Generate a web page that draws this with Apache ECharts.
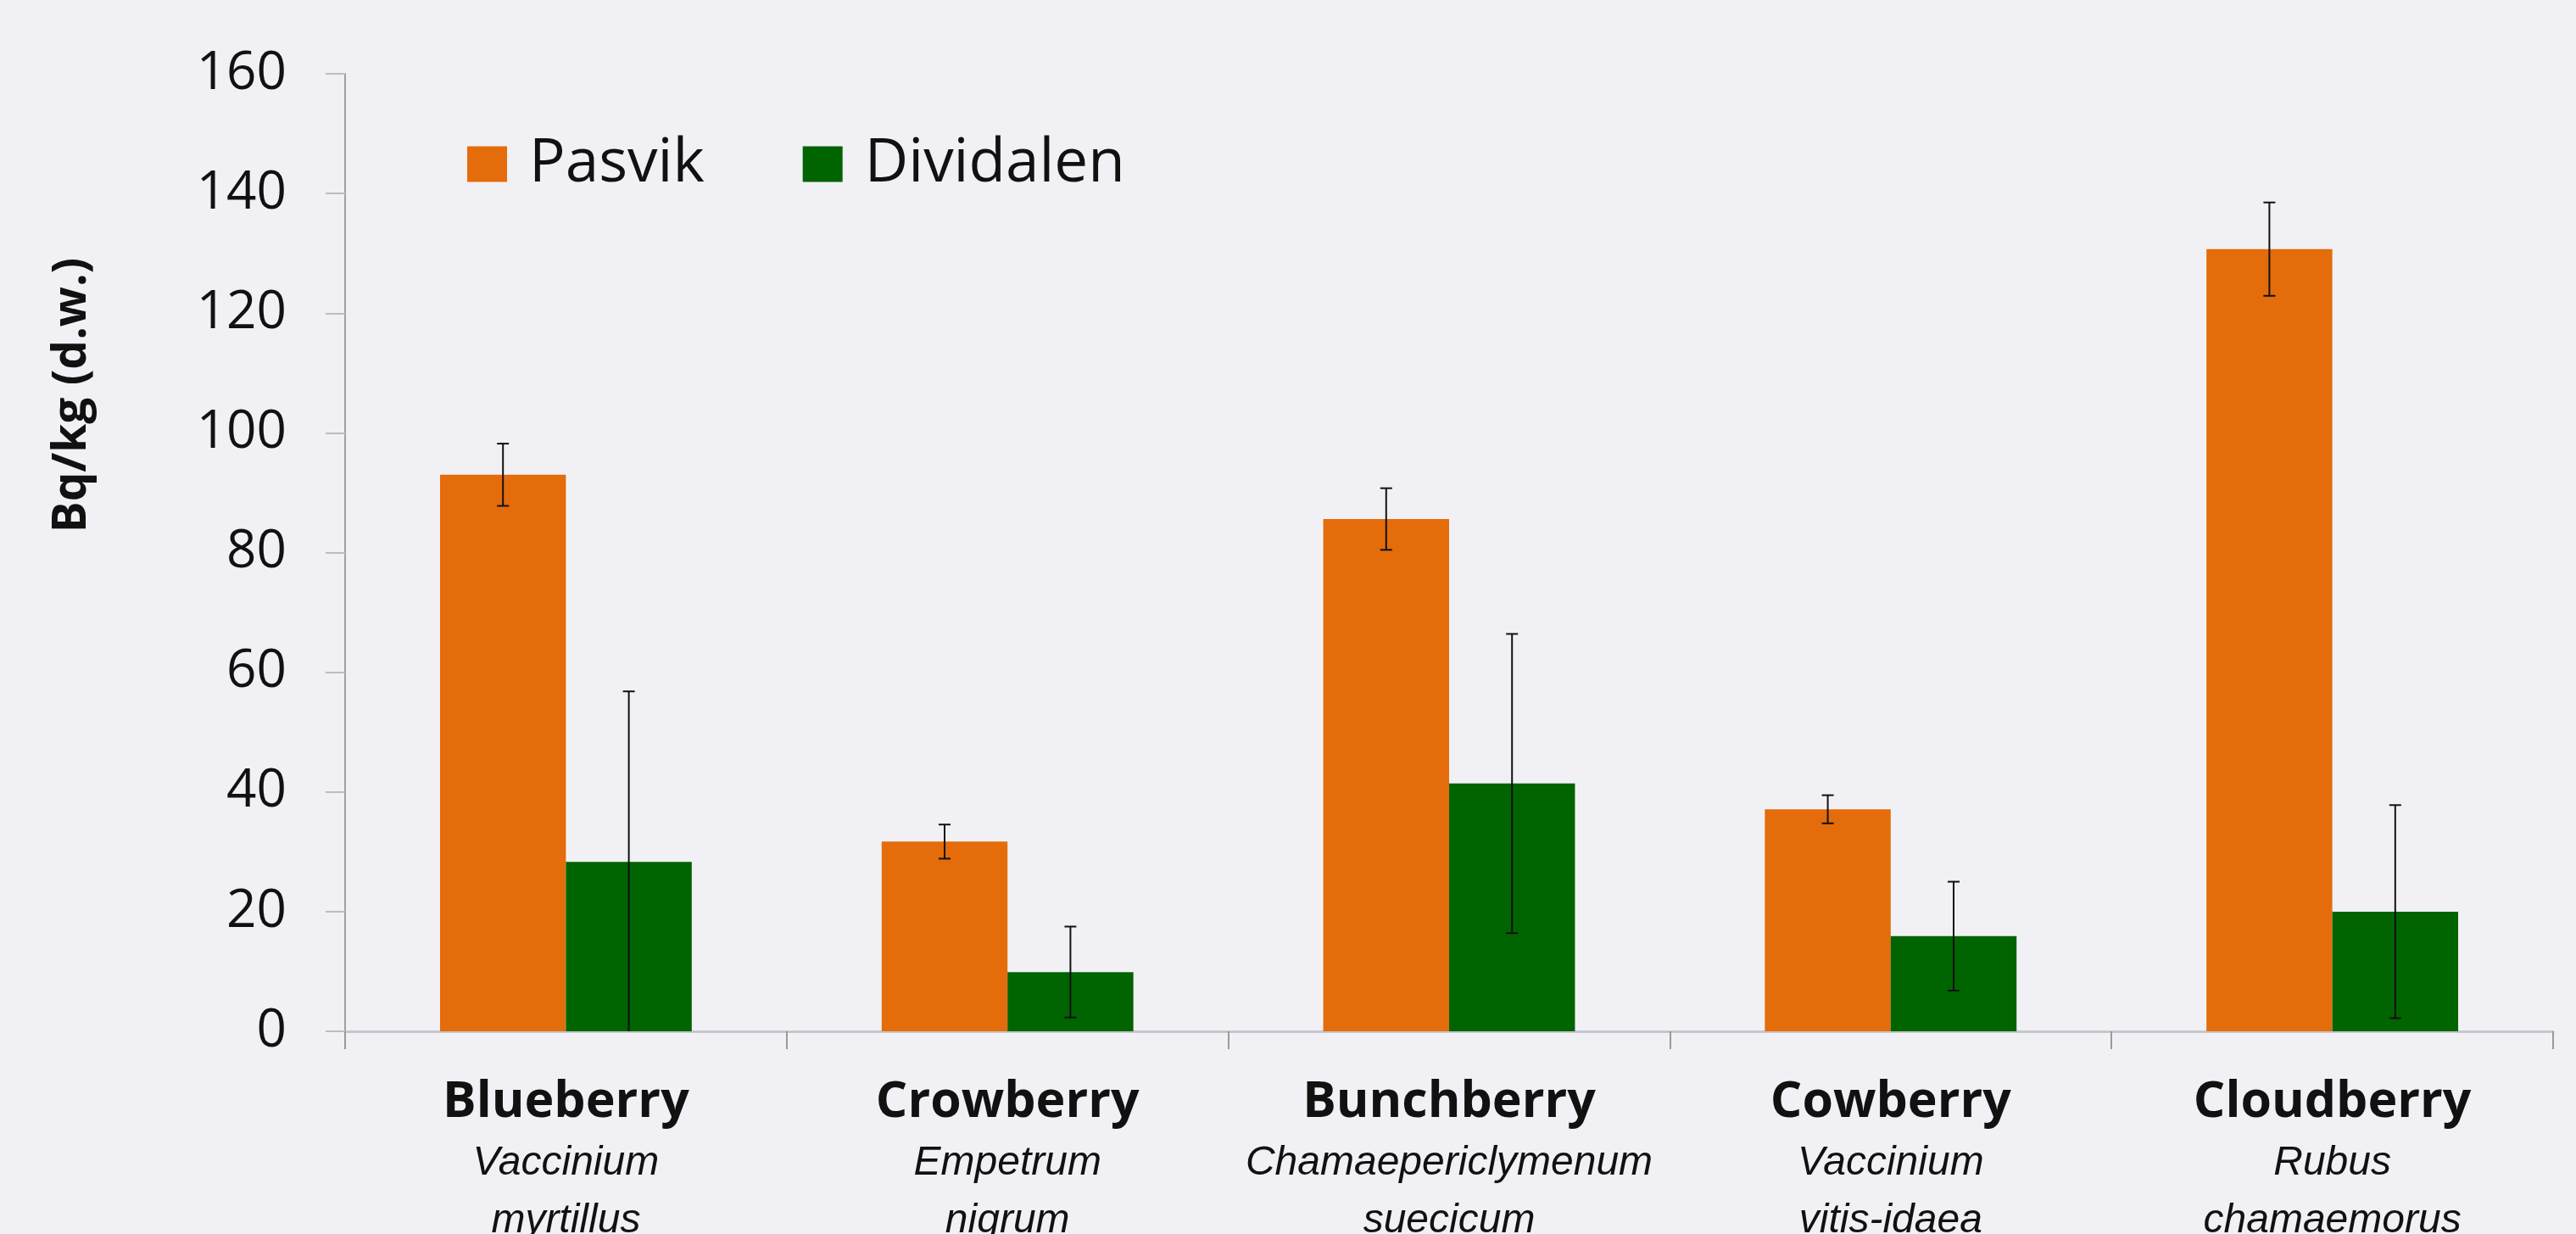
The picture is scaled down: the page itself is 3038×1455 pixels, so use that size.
<!DOCTYPE html>
<html>
<head>
<meta charset="utf-8">
<script src="https://cdn.jsdelivr.net/npm/echarts@6/dist/echarts.min.js"></script>
<style>
html,body{margin:0;padding:0;background:#f1f1f5;}
#chart{width:3038px;height:1455px;}
</style>
</head>
<body>
<div id="chart"></div>
<script>
const categories = ['Blueberry', 'Crowberry', 'Bunchberry', 'Cowberry', 'Cloudberry'];
const speciesLine1 = ['Vaccinium', 'Empetrum', 'Chamaepericlymenum', 'Vaccinium', 'Rubus'];
const speciesLine2 = ['myrtillus', 'nigrum', 'suecicum', 'vitis-idaea', 'chamaemorus'];
const seriesNames = ['Pasvik', 'Dividalen'];
const pasvik = [93.0, 31.7, 85.6, 37.1, 130.7];
const pasvikErr = [5.2, 2.85, 5.15, 2.35, 7.8];
const dividalen = [28.3, 9.9, 41.4, 15.9, 20.0];
const dividalenErr = [28.5, 7.6, 25.0, 9.1, 17.8];
const yMin = 0, yMax = 160, yInterval = 20;
const yTitle = 'Bq/kg (d.w.)';

const colors = ['#E46C0A', '#006400'];
const gapRatio = 0.43;

function errorSeries(vals, errs, sign) {
  return {
    type: 'custom',
    z: 10,
    silent: true,
    data: vals.map((v, i) => [i, v, errs[i]]),
    encode: { x: 0, y: 1 },
    renderItem: function (params, api) {
      const i = api.value(0), v = api.value(1), e = api.value(2);
      const bandW = api.size([1, 0])[0];
      const barW = bandW * (1 - gapRatio) / 2;
      const off = sign * barW / 2;
      const lowVal = Math.max(0, v - e);
      const top = api.coord([i, v + e]);
      const bot = api.coord([i, lowVal]);
      const x = top[0] + off;
      const cap = 7;
      const st = { stroke: '#111', lineWidth: 2 };
      const children = [
        { type: 'line', shape: { x1: x, y1: top[1], x2: x, y2: bot[1] }, style: st },
        { type: 'line', shape: { x1: x - cap, y1: top[1], x2: x + cap, y2: top[1] }, style: st }
      ];
      if (v - e > 0) {
        children.push({ type: 'line', shape: { x1: x - cap, y1: bot[1], x2: x + cap, y2: bot[1] }, style: st });
      }
      return { type: 'group', children: children };
    }
  };
}

const chart = echarts.init(document.getElementById('chart'));
chart.setOption({
  backgroundColor: '#f1f1f5',
  animation: false,
  color: colors,
  grid: { left: 407, right: 27, top: 87, bottom: 239, outerBoundsMode: 'none' },
  legend: {
    data: seriesNames,
    left: 551,
    top: 158,
    padding: 0,
    icon: 'rect',
    itemWidth: 47,
    itemHeight: 42,
    itemGap: 116,
    textStyle: { fontFamily: 'Open Sans', fontSize: 71, lineHeight: 42, color: '#111', padding: [0, 0, 0, 21] }
  },
  graphic: [{
    type: 'text',
    x: 85,
    y: 466,
    rotation: Math.PI / 2,
    style: {
      text: yTitle,
      fontFamily: 'Open Sans',
      fontWeight: 'bold',
      fontSize: 55,
      fill: '#111',
      align: 'center',
      verticalAlign: 'middle'
    }
  }],
  xAxis: {
    type: 'category',
    data: categories,
    axisLine: { lineStyle: { color: '#c6c6cc', width: 3 } },
    axisTick: { show: true, length: 21, lineStyle: { color: '#9a9a9a', width: 2 } },
    axisLabel: {
      interval: 0,
      margin: 46,
      formatter: function (val, idx) {
        return '{a|' + val + '}\n{b|' + speciesLine1[idx] + '}\n{b|' + speciesLine2[idx] + '}';
      },
      rich: {
        a: { fontFamily: 'Open Sans', fontWeight: 'bold', fontSize: 59, lineHeight: 76, color: '#111' },
        b: { fontFamily: 'Liberation Sans', fontStyle: 'italic', fontSize: 48, lineHeight: 68, color: '#111' }
      }
    }
  },
  yAxis: {
    type: 'value',
    min: yMin,
    max: yMax,
    interval: yInterval,
    splitLine: { show: false },
    axisLine: { show: true, lineStyle: { color: '#a0a0a0', width: 2 } },
    axisTick: { show: true, length: 23, lineStyle: { color: '#bdbdbd', width: 2 } },
    axisLabel: { margin: 69, fontFamily: 'Open Sans', fontSize: 62, color: '#111' }
  },
  series: [
    { name: seriesNames[0], type: 'bar', data: pasvik, barGap: '0%', barCategoryGap: '43%', itemStyle: { color: colors[0] } },
    { name: seriesNames[1], type: 'bar', data: dividalen, barGap: '0%', barCategoryGap: '43%', itemStyle: { color: colors[1] } },
    errorSeries(pasvik, pasvikErr, -1),
    errorSeries(dividalen, dividalenErr, 1)
  ]
});
</script>
</body>
</html>
